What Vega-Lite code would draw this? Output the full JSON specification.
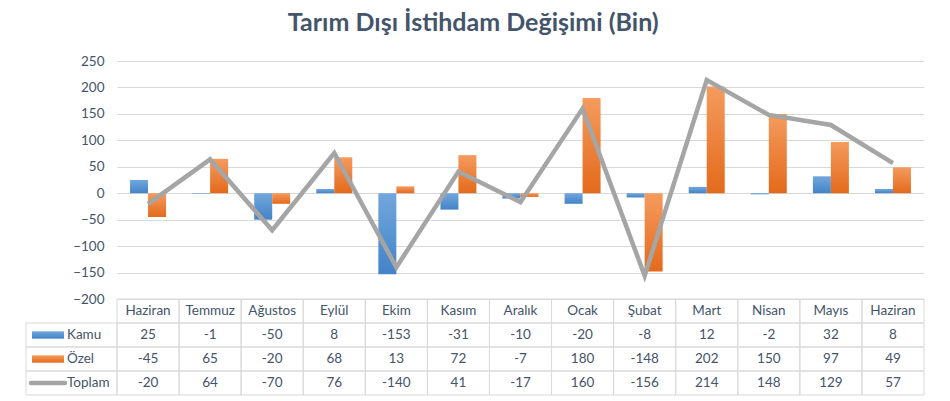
{
  "$schema": "https://vega.github.io/schema/vega-lite/v6.json",
  "padding": {"left": 22, "top": 11, "right": 30, "bottom": 0},
  "background": "white",
  "config": {"font": "Lato", "view": {"stroke": null},
    "axisY": {"labelOverlap": false, "grid": true, "gridColor": "#D9D9D9", "gridWidth": 1, "domain": false, "ticks": false, "labelFontSize": 13.5, "labelColor": "#44546A", "labelPadding": 13, "labelFont": "Lato"}},
  "title": {"text": "Tarım Dışı İstihdam Değişimi (Bin)", "fontSize": 25, "fontWeight": "bold", "color": "#44546A", "font": "Lato", "anchor": "middle", "offset": 18},
  "data": {"values": [
    {"i": 1, "ay": "Haziran", "Kamu": 25, "Özel": -45, "Toplam": -20},
    {"i": 2, "ay": "Temmuz", "Kamu": -1, "Özel": 65, "Toplam": 64},
    {"i": 3, "ay": "Ağustos", "Kamu": -50, "Özel": -20, "Toplam": -70},
    {"i": 4, "ay": "Eylül", "Kamu": 8, "Özel": 68, "Toplam": 76},
    {"i": 5, "ay": "Ekim", "Kamu": -153, "Özel": 13, "Toplam": -140},
    {"i": 6, "ay": "Kasım", "Kamu": -31, "Özel": 72, "Toplam": 41},
    {"i": 7, "ay": "Aralık", "Kamu": -10, "Özel": -7, "Toplam": -17},
    {"i": 8, "ay": "Ocak", "Kamu": -20, "Özel": 180, "Toplam": 160},
    {"i": 9, "ay": "Şubat", "Kamu": -8, "Özel": -148, "Toplam": -156},
    {"i": 10, "ay": "Mart", "Kamu": 12, "Özel": 202, "Toplam": 214},
    {"i": 11, "ay": "Nisan", "Kamu": -2, "Özel": 150, "Toplam": 148},
    {"i": 12, "ay": "Mayıs", "Kamu": 32, "Özel": 97, "Toplam": 129},
    {"i": 13, "ay": "Haziran", "Kamu": 8, "Özel": 49, "Toplam": 57}
  ]},
  "bounds": "flush",
  "spacing": 0,
  "columns": 2,
  "concat": [
    {
      "width": 91, "height": 238,
      "data": {"values": [{}]},
      "mark": {"type": "point", "opacity": 0}
    },
    {
      "width": 807, "height": 238,
      "encoding": {
        "x": {"field": "i", "type": "ordinal", "axis": null, "scale": {"paddingInner": 0.42, "paddingOuter": 0.21}}
      },
      "layer": [
        {
          "transform": [{"fold": ["Kamu"], "as": ["seri", "deger"]}],
          "mark": {"type": "bar", "color": {"gradient": "linear", "x1": 0, "y1": 0, "x2": 0, "y2": 1, "stops": [{"offset": 0, "color": "#72A7DC"}, {"offset": 1, "color": "#4383C8"}]}},
          "encoding": {
            "xOffset": {"field": "seri", "type": "nominal", "scale": {"domain": ["Kamu", "Özel"]}},
            "y": {"field": "deger", "type": "quantitative", "title": null,
              "scale": {"domain": [-200, 250], "nice": false, "zero": false},
              "axis": {"values": [-200, -150, -100, -50, 0, 50, 100, 150, 200, 250]}}
          }
        },
        {
          "transform": [{"fold": ["Özel"], "as": ["seri", "deger"]}],
          "mark": {"type": "bar", "color": {"gradient": "linear", "x1": 0, "y1": 0, "x2": 0, "y2": 1, "stops": [{"offset": 0, "color": "#F59B5E"}, {"offset": 1, "color": "#E36A1B"}]}},
          "encoding": {
            "xOffset": {"field": "seri", "type": "nominal", "scale": {"domain": ["Kamu", "Özel"]}},
            "y": {"field": "deger", "type": "quantitative", "title": null,
              "axis": {"values": [-200, -150, -100, -50, 0, 50, 100, 150, 200, 250]}}
          }
        },
        {
          "mark": {"type": "line", "color": "#A5A5A5", "strokeWidth": 4.5},
          "encoding": {
            "y": {"field": "Toplam", "type": "quantitative", "title": null,
              "axis": {"values": [-200, -150, -100, -50, 0, 50, 100, 150, 200, 250]}}
          }
        }
      ]
    },
    {
      "width": 91, "height": 96,
      "data": {"values": [{"satir": "Kamu"}, {"satir": "Özel"}, {"satir": "Toplam"}]},
      "encoding": {
        "y": {"field": "satir", "type": "nominal", "axis": null, "scale": {"domain": ["ay", "Kamu", "Özel", "Toplam"], "padding": 0}}
      },
      "layer": [
        {"mark": {"type": "rect", "fill": "white", "fillOpacity": 0, "stroke": "#D9D9D9", "strokeWidth": 1}},
        {
          "transform": [{"filter": "datum.satir === 'Kamu'"}],
          "mark": {"type": "point", "shape": "M-1,-0.23L1,-0.23L1,0.23L-1,0.23Z", "size": 1024, "filled": true, "opacity": 1, "strokeWidth": 0, "xOffset": -23.5,
            "fill": {"gradient": "linear", "x1": 0, "y1": 0, "x2": 0, "y2": 1, "stops": [{"offset": 0, "color": "#72A7DC"}, {"offset": 1, "color": "#4383C8"}]}}
        },
        {
          "transform": [{"filter": "datum.satir === 'Özel'"}],
          "mark": {"type": "point", "shape": "M-1,-0.23L1,-0.23L1,0.23L-1,0.23Z", "size": 1024, "filled": true, "opacity": 1, "strokeWidth": 0, "xOffset": -23.5,
            "fill": {"gradient": "linear", "x1": 0, "y1": 0, "x2": 0, "y2": 1, "stops": [{"offset": 0, "color": "#F59B5E"}, {"offset": 1, "color": "#E36A1B"}]}}
        },
        {
          "transform": [{"filter": "datum.satir === 'Toplam'"}],
          "mark": {"type": "point", "shape": "stroke", "size": 1156, "filled": false, "opacity": 1, "stroke": "#A5A5A5", "strokeWidth": 4.5, "strokeCap": "round", "xOffset": -23.5}
        },
        {
          "mark": {"type": "text", "align": "left", "baseline": "middle", "xOffset": -4.5, "fontSize": 13.5, "color": "#44546A", "font": "Lato"},
          "encoding": {"text": {"field": "satir", "type": "nominal"}}
        }
      ]
    },
    {
      "width": 807, "height": 96,
      "transform": [{"fold": ["ay", "Kamu", "Özel", "Toplam"], "as": ["satir", "deger"]}],
      "encoding": {
        "x": {"field": "i", "type": "ordinal", "axis": null, "scale": {"padding": 0}},
        "y": {"field": "satir", "type": "nominal", "axis": null, "scale": {"domain": ["ay", "Kamu", "Özel", "Toplam"], "padding": 0}}
      },
      "layer": [
        {"mark": {"type": "rect", "fill": "white", "fillOpacity": 0, "stroke": "#D9D9D9", "strokeWidth": 1}},
        {
          "mark": {"type": "text", "baseline": "middle", "fontSize": 13.5, "color": "#44546A", "font": "Lato"},
          "encoding": {"text": {"field": "deger", "type": "nominal"}}
        }
      ]
    }
  ]
}
